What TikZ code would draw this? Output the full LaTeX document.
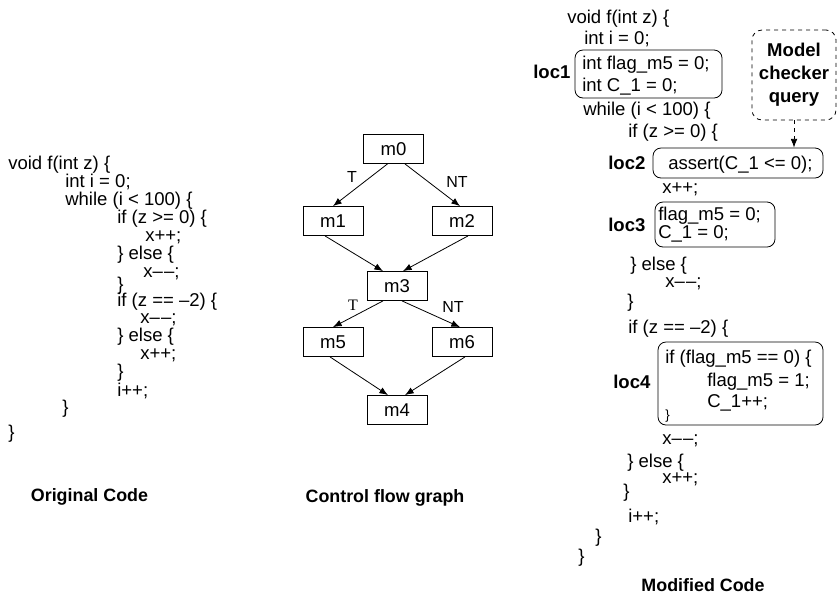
\documentclass[tikz,border=0pt]{standalone}
\usepackage{fontspec}
\setmainfont{Liberation Sans}
\newfontfamily\timesfont{Liberation Serif}
\usetikzlibrary{arrows.meta}
\newcommand\codesize{\fontsize{13.9}{16}\selectfont}
% two separated dashes, as in "x--;" of the listings
\newcommand\decr{\textendash\kern0.9pt\textendash}
\tikzset{
  ln/.style={anchor=base west, inner sep=0pt},
  loclbl/.style={anchor=base west, inner sep=0pt, font=\bfseries\codesize},
  caption/.style={inner sep=0pt, font=\bfseries\fontsize{13.4}{16}\selectfont},
  blk/.style={draw, line width=0.6pt, minimum width=45pt, minimum height=21.75pt, inner sep=0pt},
  arr/.style={line width=0.6pt, -{Latex[length=6.5pt,width=5pt]}},
  branch/.style={inner sep=0pt, font=\fontsize{12}{14}\selectfont},
  codebox/.style={draw, line width=0.6pt, rounded corners=6pt, inner sep=0pt},
}
\begin{document}
\begin{tikzpicture}[x=0.75pt, y=-0.75pt, font=\codesize]
\useasboundingbox (0,0) rectangle (838,601);

% ---------- original code ----------
\node[ln] (o1)  at (8,169)   {void f(int z) \{};
\node[ln] (o2)  at (65,187)  {int i = 0;};
\node[ln] (o3)  at (65,205)  {while (i < 100) \{};
\node[ln] (o4)  at (117,223) {if (z >= 0) \{};
\node[ln] (o5)  at (145,241) {x++;};
\node[ln] (o6)  at (117,259) {\} else \{};
\node[ln] (o7)  at (143,277) {x\decr;};
\node[ln] (o8)  at (117,290) {\}};
\node[ln] (o9)  at (117,306) {if (z == --2) \{};
\node[ln] (o10) at (140,323) {x\decr;};
\node[ln] (o11) at (117,341) {\} else \{};
\node[ln] (o12) at (140,359) {x++;};
\node[ln] (o13) at (117,377) {\}};
\node[ln] (o14) at (117,396) {i++;};
\node[ln] (o15) at (62,413)  {\}};
\node[ln] (o16) at (8,438)   {\}};
\node[caption] (capA) at (89.5,497) {Original Code};

% ---------- control flow graph ----------
\node[blk] (m0) at (393.5,149) {m0};
\node[blk] (m1) at (333,221)   {m1};
\node[blk] (m2) at (462,221)   {m2};
\node[blk] (m3) at (397,286)   {m3};
\node[blk] (m5) at (333,342)   {m5};
\node[blk] (m6) at (462,342)   {m6};
\node[blk] (m4) at (397,410)   {m4};

\draw[arr] ([xshift=-4.5pt]m0.south) -- (m1.north);
\draw[arr] ([xshift=8.6pt]m0.south)  -- ([xshift=-1.5pt]m2.north);
\draw[arr] ([xshift=-6pt]m1.south)   -- ([xshift=-10.5pt]m3.north);
\draw[arr] ([xshift=4.5pt]m2.south)  -- ([xshift=4.5pt]m3.north);
\draw[arr] ([xshift=-10.5pt]m3.south) -- (m5.north);
\draw[arr] ([xshift=3.75pt]m3.south) -- ([xshift=-1.5pt]m6.north);
\draw[arr] ([xshift=-2.25pt]m5.south) -- ([xshift=-6.75pt]m4.north);
\draw[arr] ([xshift=2.25pt]m6.south) -- ([xshift=6pt]m4.north);

\node[branch] (t1)  at (352,177) {T};
\node[branch] (nt1) at (457,182) {NT};
\node[branch, font=\timesfont\fontsize{12}{14}\selectfont] (t2) at (353,305) {T};
\node[branch] (nt2) at (453,307) {NT};
\node[caption] (capB) at (385,498) {Control flow graph};

% ---------- modified code ----------
\node[codebox, minimum width=110.25pt, minimum height=36pt] (box1) at (648.5,74) {};
\node[codebox, minimum width=127.5pt, minimum height=22.5pt] (box2) at (738,163) {};
\node[codebox, minimum width=90pt, minimum height=33.75pt] (box3) at (715,224.5) {};
\node[codebox, minimum width=123.75pt, minimum height=62.25pt] (box4) at (740.5,383.5) {};
\node[draw, dashed, line width=0.6pt, rounded corners=7.5pt, minimum width=63pt,
      minimum height=67.5pt, inner sep=0pt, align=center,
      font=\bfseries\fontsize{13.9}{17.25}\selectfont] (mcq) at (794,75) {Model\\checker\\query};
\draw[arr, dashed] (mcq.south) -- (mcq.south |- box2.north);

\node[loclbl] (l1) at (533,78)  {loc1};
\node[loclbl] (l2) at (608,169) {loc2};
\node[loclbl] (l3) at (608,231) {loc3};
\node[loclbl] (l4) at (613,388) {loc4};

\node[ln] (r1)  at (567,23)  {void f(int z) \{};
\node[ln] (r2)  at (584,44)  {int i = 0;};
\node[ln] (r3)  at (582,69)  {int flag\_m5 = 0;};
\node[ln] (r4)  at (582,91)  {int C\_1 = 0;};
\node[ln] (r5)  at (583,115) {while (i < 100) \{};
\node[ln] (r6)  at (628,137) {if (z >= 0) \{};
\node[ln] (r7)  at (668,169) {assert(C\_1 <= 0);};
\node[ln] (r8)  at (662,193) {x++;};
\node[ln] (r9)  at (658,220) {flag\_m5 = 0;};
\node[ln] (r10) at (658,238) {C\_1 = 0;};
\node[ln] (r11) at (630,270) {\} else \{};
\node[ln] (r12) at (665,287) {x\decr;};
\node[ln] (r13) at (627,307) {\}};
\node[ln] (r14) at (628,333) {if (z == --2) \{};
\node[ln] (r15) at (665,363) {if (flag\_m5 == 0) \{};
\node[ln] (r16) at (707,386) {flag\_m5 = 1;};
\node[ln] (r17) at (707,407) {C\_1++;};
\node[ln, font=\fontsize{10}{12}\selectfont] (r18) at (665,419) {\}};
\node[ln] (r19) at (662,444) {x\decr;};
\node[ln] (r20) at (627,467) {\} else \{};
\node[ln] (r21) at (662,483) {x++;};
\node[ln] (r22) at (623,497) {\}};
\node[ln] (r23) at (628,522) {i++;};
\node[ln] (r24) at (595,542) {\}};
\node[ln] (r25) at (578,562) {\}};
\node[caption] (capC) at (703,585) {Modified Code};
\end{tikzpicture}
\end{document}
